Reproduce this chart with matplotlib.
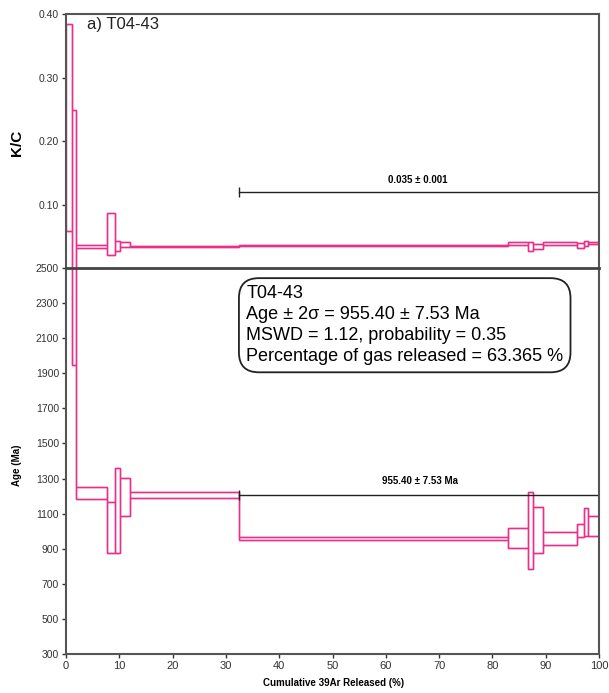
import numpy as np
import matplotlib
matplotlib.use('Agg')
import matplotlib.pyplot as plt

plt.rcParams['font.family'] = ['Liberation Sans', 'DejaVu Sans']

# step boundaries, cumulative 39Ar released (%)
edges = [0, 1.2, 1.8, 7.7, 9.2, 10.1, 12.0, 32.4, 83.0, 86.7, 87.7, 89.4, 95.8, 97.1, 98.0, 100]

# K/C per step, lower and upper limits
kc_lo = [0.059, -0.05, 0.031, 0.020, 0.026, 0.033, 0.0330, 0.0345, 0.0365, 0.026, 0.030, 0.0365, 0.032, 0.035, 0.0375]
kc_hi = [0.384, 0.249, 0.0365, 0.086, 0.042, 0.0406, 0.0345, 0.0360, 0.0417, 0.0406, 0.0385, 0.0406, 0.039, 0.043, 0.0417]

# apparent age per step (Ma), lower and upper limits
age_lo = [2700, 1947, 1182, 874, 874, 1087, 1189, 950, 902, 782, 874, 921, 965, 973, 975]
age_hi = [3100, 2700, 1253, 1168, 1358, 1305, 1223, 965, 1016, 1221, 1140, 993, 1043, 1130, 1087]

kc_ticks = [0.10, 0.20, 0.30, 0.40]
age_ticks = list(range(300, 2501, 200))
x_ticks = list(range(0, 101, 10))

pink = '#ea2f8a'
edges = np.array(edges)
widths = np.diff(edges)

fig = plt.figure(figsize=(6.09, 6.93), dpi=100)
ax1 = fig.add_axes([66/609, 1-268/693, 533/609, 254/693])
ax2 = fig.add_axes([66/609, 1-654/693, 533/609, 386/693])


def draw_steps(ax, lo, hi):
    lo = np.array(lo)
    hi = np.array(hi)
    # one box per heating step, plus the joining lines between steps
    ax.bar(edges[:-1], hi - lo, width=widths, bottom=lo, align='edge',
           fill=False, edgecolor=pink, linewidth=1.0)
    ax.stairs(hi, edges, baseline=None, color=pink, linewidth=1.0)
    ax.stairs(lo, edges, baseline=None, color=pink, linewidth=1.0)


draw_steps(ax1, kc_lo, kc_hi)
draw_steps(ax2, age_lo, age_hi)

# plateau markers
ax1.plot([32.4, 100], [0.12, 0.12], color='#222222', lw=1.0)
ax1.plot([32.4], [0.12], marker='|', ms=7, color='#222222')
ax1.text(66, 0.138, '0.035 \u00b1 0.001', ha='center', va='center', fontsize=7, fontweight='bold')

ax2.plot([32.4, 100], [1206, 1206], color='#222222', lw=1.0)
ax2.plot([32.4], [1206], marker='|', ms=7, color='#222222')
ax2.text(66.5, 1286, '955.40 \u00b1 7.53 Ma', ha='center', va='center', fontsize=7, fontweight='bold')

ax2.text(0.338, 0.955,
         'T04-43\nAge \u00b1 2\u03c3 = 955.40 \u00b1 7.53 Ma\nMSWD = 1.12, probability = 0.35\n'
         'Percentage of gas released = 63.365 %',
         transform=ax2.transAxes, ha='left', va='top', fontsize=13, linespacing=1.3,
         bbox=dict(boxstyle='round,pad=0.4,rounding_size=1.1', fc='white', ec='#222222', lw=1.3))

ax1.set_xlim(0, 100)
ax1.set_ylim(0, 0.40)
ax2.set_xlim(0, 100)
ax2.set_ylim(300, 2500)

ax1.set_xticks([])
ax1.set_yticks(kc_ticks)
ax1.set_yticklabels(['%.2f' % v for v in kc_ticks])
ax2.set_yticks(age_ticks)
ax2.set_xticks(x_ticks)

for ax in (ax1, ax2):
    for s in ax.spines.values():
        s.set_color('#555555')
        s.set_linewidth(1.5)
    ax.tick_params(direction='out', length=3, width=1, colors='#333333', labelsize=7.5, pad=2)
ax1.spines['bottom'].set_visible(False)
ax2.spines['top'].set_color('#444444')
ax2.spines['top'].set_linewidth(2)
ax2.tick_params(axis='x', labelsize=8)

fig.text(87/609, 1-25/693, 'a) T04-43', ha='left', va='center', fontsize=12, color='#222222')
fig.text(17/609, 1-143/693, 'K/C', rotation=90, ha='center', va='center', fontsize=11, fontweight='bold')
fig.text(17/609, 1-465/693, 'Age (Ma)', rotation=90, ha='center', va='center', fontsize=7, fontweight='bold')
fig.text(334/609, 1-683/693, 'Cumulative 39Ar Released (%)', ha='center', va='center', fontsize=7, fontweight='bold')

fig.savefig('out.png', dpi=100)
